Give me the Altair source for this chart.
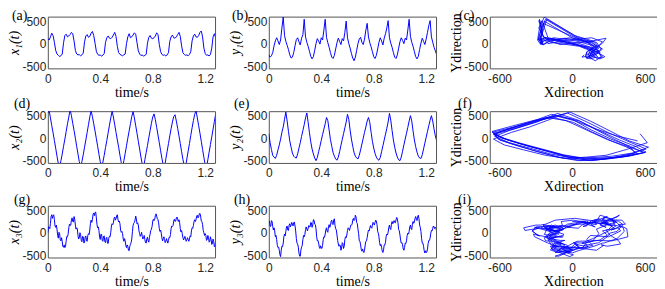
import altair as alt
import pandas as pd

# sample times (s)
t = [round(i * 0.01, 2) for i in range(129)]
t3 = [round(i * 0.005, 3) for i in range(257)]

x1 = [100, 80, 150, 230, 180, 30, -150, -230, -260, -285, -270, -230, 20, 180, 210, 150, 170, 200, 250, 220,
      60, -150, -230, -250, -245, -270, -250, -210, 40, 170, 200, 140, 160, 230, 270, 180, 10, -170, -240, -260,
      -250, -280, -255, -220, 30, 130, 170, 120, 110, 140, 190, 250, 160, -60, -200, -240, -255, -270, -250, -230,
      0, 150, 220, 130, 150, 190, 240, 210, 20, -160, -230, -265, -250, -280, -260, -240, 10, 140, 180, 120,
      110, 130, 170, 240, 200, -20, -180, -240, -260, -250, -275, -250, -200, 50, 150, 190, 130, 120, 150, 200,
      250, 160, -50, -200, -240, -260, -250, -270, -240, -180, 60, 170, 210, 150, 140, 180, 250, 280, 150, -100,
      -220, -260, -250, -275, -240, -100, 150, 220, 120]

y1 = [-250, -300, -270, -200, -50, 60, 130, 60, -20, 80, 350, 590, 180, 50, -40, -130, -250, -320, -300, -200,
      -50, 90, 130, 40, -30, 120, 200, 540, 150, 30, -60, -170, -280, -340, -290, -150, 0, 110, 60, -10,
      130, 80, 300, 540, 140, 20, -80, -200, -300, -330, -260, -120, 20, 120, 50, -20, 110, 60, 250, 500,
      130, 0, -100, -220, -320, -380, -300, -150, 0, 100, 140, 30, -20, 100, 300, 450, 150, 20, -70, -180,
      -290, -330, -260, -120, 30, 130, 60, -30, 120, 220, 350, 510, 130, 10, -80, -200, -300, -330, -250, -100,
      40, 130, 70, 0, 120, 80, 300, 540, 160, 30, -60, -180, -290, -340, -280, -130, 10, 120, 50, -20,
      100, 250, 400, 510, 150, 30, -80, -160, -250]

x2 = [560, 620, 450, 280, 120, -50, -220, -400, -560, -650, -500, -350, -180, -20, 150, 320, 470, 630, 500, 330,
      170, 0, -180, -350, -520, -640, -520, -370, -200, -40, 130, 300, 470, 610, 480, 320, 160, -10, -180, -360,
      -520, -650, -530, -380, -210, -50, 120, 290, 450, 600, 470, 300, 130, -40, -200, -380, -540, -640, -500, -340,
      -170, 0, 160, 320, 480, 590, 450, 280, 110, -70, -240, -420, -580, -660, -480, -320, -160, 10, 170, 330,
      470, 540, 410, 240, 70, -100, -280, -450, -600, -640, -460, -290, -120, 50, 210, 360, 480, 520, 380, 220,
      50, -120, -300, -470, -610, -650, -460, -290, -120, 60, 230, 390, 530, 610, 450, 280, 110, -70, -250, -430,
      -590, -660, -480, -310, -140, 30, 200, 370, 540]

y2 = [100, -100, -250, -380, -420, -450, -380, -260, -150, -20, 130, 250, 420, 580, 380, 150, -60, -200, -330, -400,
      -430, -440, -350, -220, -100, 40, 170, 300, 450, 560, 350, 120, -80, -240, -350, -440, -500, -430, -300, -180,
      -50, 80, 200, 320, 460, 390, 180, -30, -180, -320, -400, -460, -490, -420, -300, -160, -30, 100, 230, 360,
      530, 420, 180, -20, -180, -320, -400, -440, -460, -380, -260, -130, 0, 130, 250, 380, 460, 350, 130, -70,
      -220, -340, -420, -470, -490, -430, -300, -170, -40, 90, 220, 360, 550, 400, 170, -40, -200, -330, -420, -480,
      -500, -420, -290, -150, -20, 110, 240, 380, 500, 380, 160, -40, -190, -310, -400, -440, -450, -370, -240, -110,
      20, 150, 280, 400, 500, 380, 200, 50, -60]

x3 = [0, 130, 120, 90, 210, 360, 400, 320, 380, 400, 300, 150, 120, 170, 80, -60, -120, 10, -20, -160,
      -180, -110, -200, -310, -320, -270, -330, -300, -180, -80, -90, -30, 110, 190, 160, 170, 290, 330, 250, 240,
      360, 300, 170, 80, 110, 90, -60, -140, -110, 0, -40, -170, -200, -80, -90, -230, -210, -90, -70, -180,
      -190, -60, -20, -40, 60, 210, 280, 230, 290, 410, 440, 380, 450, 460, 330, 180, 110, 130, 50, -100,
      -150, -30, -40, -170, -190, -80, -70, -200, -220, -120, -100, -230, -240, -120, -80, -90, 10, 150, 200, 180,
      220, 320, 350, 280, 310, 380, 400, 290, 240, 260, 200, 60, 10, 30, -20, -140, -190, -130, -180, -290,
      -330, -270, -300, -390, -400, -300, -260, -220, -140, 20, 160, 210, 230, 280, 370, 310, 200, 220, 170, 40,
      -20, -80, -50, 10, -80, -140, -110, -60, -150, -220, -230, -130, -100, -180, -210, -100, -30, 50, 80, 140,
      260, 300, 270, 300, 380, 420, 370, 310, 290, 220, 90, 30, 60, -10, -120, -180, -130, -90, -150, -220,
      -190, -130, -180, -230, -170, -100, -110, -40, 90, 150, 140, 160, 260, 300, 250, 260, 330, 350, 300, 250,
      290, 230, 90, 20, 50, -20, -110, -160, -130, -80, -130, -190, -160, -110, -150, -190, -140, -70, -90, 40,
      110, 100, 160, 250, 290, 250, 290, 370, 390, 330, 350, 420, 430, 370, 260, 250, 180, 50, 0, -60,
      -20, -60, -170, -150, -60, -100, -210, -190, -90, -150, -260, -230, -140, -200, -310, -280, -170]

y3 = [250, 260, 150, 140, 270, 250, 140, 60, 110, 40, -90, -60, -150, -280, -330, -320, -390, -490, -530, -380,
      -300, -310, -230, -90, -30, -70, 30, 130, 150, 60, 50, 170, 200, 130, 170, 230, 190, 150, 220, 240,
      150, 40, -130, -230, -250, -320, -450, -520, -520, -380, -320, -280, -150, -60, -90, -40, 70, 130, 80, 40,
      100, 160, 130, 130, 230, 220, 120, 170, 290, 280, 190, 180, 90, -90, -180, -170, -230, -320, -350, -290,
      -340, -350, -280, -150, -90, -100, -30, 70, 110, 30, 10, 130, 180, 120, 160, 250, 280, 200, 180, 280,
      310, 160, 90, 60, -50, -170, -250, -300, -270, -280, -390, -340, -220, -240, -350, -300, -150, -90, -110, -50,
      50, 110, 90, 50, 110, 170, 170, 190, 280, 320, 270, 290, 390, 350, 230, 200, 80, -20, -180, -190,
      -270, -370, -410, -360, -410, -440, -390, -270, -190, -180, -110, -10, 60, 40, 100, 160, 120, 100, 170, 230,
      200, 170, 230, 280, 260, 180, 30, -10, -90, -220, -290, -260, -320, -410, -440, -380, -270, -270, -210, -80,
      -30, -50, 10, 120, 170, 90, 70, 190, 250, 200, 220, 270, 230, 220, 290, 340, 310, 220, 70, 40,
      -50, -160, -230, -220, -270, -360, -390, -330, -230, -240, -180, -60, -10, -30, 30, 130, 170, 90, 70, 190,
      250, 210, 240, 320, 360, 300, 270, 350, 390, 310, 170, 120, 30, -130, -230, -230, -300, -400, -450, -400,
      -440, -430, -360, -240, -170, -170, -120, -10, 50, 40, 100, 150, 130, 90, 120, 100, 20]

time_ticks = [0, 0.4, 0.8, 1.2]
amp_ticks = [-500, 0, 500]
dir_ticks = [-600, 0, 600]

SERIF = "Liberation Serif, Times New Roman, serif"
SANS = "Liberation Sans, Arial, sans-serif"
BLUE = "#0000ff"
W, H = 168, 52
MINUS = "replace(datum.label, '\u2212', '-')"
TIME_LBL = "datum.value == 0 ? '0' : datum.label"


def label_layer(text, dx, dy):
    return alt.Chart(pd.DataFrame({"s": [text]})).mark_text(
        align="left", baseline="alphabetic", font=SERIF, fontSize=14, color="black"
    ).encode(x=alt.value(dx), y=alt.value(dy), text="s:N")


def ts_panel(times, vals, ytitle, label, dx, dy):
    df = pd.DataFrame({"t": times, "v": vals})
    line = alt.Chart(df).mark_line(color=BLUE, strokeWidth=1, clip=True).encode(
        x=alt.X("t:Q", scale=alt.Scale(domain=[0, 1.275], nice=False, zero=False),
                axis=alt.Axis(values=time_ticks, title="time/s", labelExpr=TIME_LBL)),
        y=alt.Y("v:Q", scale=alt.Scale(domain=[-550, 600], nice=False),
                axis=alt.Axis(values=amp_ticks, title=ytitle, titleFontStyle="italic",
                              titleFontSize=14, labelExpr=MINUS)),
    )
    return alt.layer(line, label_layer(label, dx, dy)).properties(width=W, height=H)


def xy_panel(xv, yv, label, dx, dy):
    df = pd.DataFrame({"i": list(range(len(xv))), "x": xv, "y": yv})
    line = alt.Chart(df).mark_line(color=BLUE, strokeWidth=0.8, clip=True).encode(
        x=alt.X("x:Q", scale=alt.Scale(domain=[-680, 700], nice=False, zero=False),
                axis=alt.Axis(values=dir_ticks, title="Xdirection", labelExpr=MINUS)),
        y=alt.Y("y:Q", scale=alt.Scale(domain=[-550, 600], nice=False),
                axis=alt.Axis(values=amp_ticks, title="Ydirection", labelExpr=MINUS)),
        order="i:Q",
    )
    return alt.layer(line, label_layer(label, dx, dy)).properties(width=W, height=H)


panels = [
    ts_panel(t, x1, "x\u2081(t)", "(a)", -36, 3),
    ts_panel(t, y1, "y\u2081(t)", "(b)", -37, 3),
    xy_panel(x1, y1, "(c)", -31, 3),
    ts_panel(t, x2, "x\u2082(t)", "(d)", -34, -3),
    ts_panel(t, y2, "y\u2082(t)", "(e)", -35, -3),
    xy_panel(x2, y2, "(f)", -32, -3),
    ts_panel(t3, x3, "x\u2083(t)", "(g)", -34, -2),
    ts_panel(t3, y3, "y\u2083(t)", "(h)", -35, -2),
    xy_panel(x3, y3, "(i)", -32, -2),
]

chart = alt.concat(
    *panels, columns=3, spacing={"row": 43, "column": 54}, bounds="flush"
).properties(
    padding={"left": -1, "top": -1, "right": -1, "bottom": 0}
).configure_view(
    stroke="#555555", strokeWidth=1
).configure_axis(
    domain=False, ticks=False, grid=False,
    labelFont=SANS, labelFontSize=12, labelColor="#262626",
    labelFlush=False, labelOverlap=False,
    titleFont=SERIF, titleFontSize=14, titleFontWeight="normal", titleColor="black",
).configure_axisX(
    labelPadding=5, titlePadding=1
).configure_axisY(
    labelPadding=2, titlePadding=0
)

chart.save("out.html", embed_options={"renderer": "svg", "actions": False})
